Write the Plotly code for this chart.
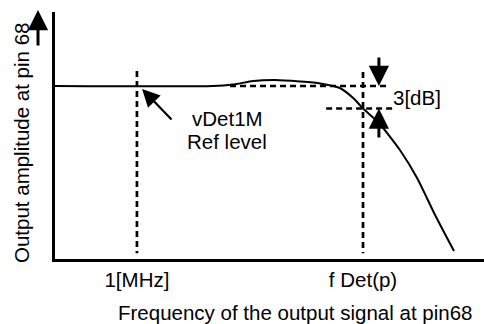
import plotly.graph_objects as go

# Normalised frequency axis (0..10) and level in dB relative to the 1 MHz reference
freq = [0.0, 3.68, 4.15, 4.62, 5.13, 5.71, 6.18, 6.64, 6.95, 7.18, 7.55, 8.04, 8.44, 8.86, 9.30]
level_db = [0.0, 0.0, 0.2, 0.67, 0.8, 0.6, 0.35, -0.27, -1.6, -3.0, -4.93, -8.53, -12.27, -17.2, -22.0]

f_ref = 1.91      # 1 MHz reference frequency
f_det = 7.18      # -3 dB detector frequency
tick_vals = [f_ref, f_det]
tick_text = ["1[MHz]", "f Det(p)"]

# Marker guide extents
ref_guide_x = [4.08, 7.81]       # 0 dB dashed guide
cut_guide_x = [6.32, 7.93]       # -3 dB dashed guide
vline_db = [2.0, -22.3]          # vertical dashed guides
fdet_vline_db = [1.87, -22.3]

X_RANGE = [0, 10]
Y_RANGE = [-23.07, 9.87]
FONT = "Liberation Sans, Arial, sans-serif"
FS = 20.5
dash_style = dict(color="black", width=2.7, dash="6px,4px")

fig = go.Figure()

# Frequency response
fig.add_trace(go.Scatter(x=freq, y=level_db, mode="lines",
                         line=dict(color="black", width=2, shape="spline", smoothing=0.6),
                         hoverinfo="skip"))

# Dashed guides
fig.add_trace(go.Scatter(x=[f_ref, f_ref], y=vline_db, mode="lines", line=dash_style, hoverinfo="skip"))
fig.add_trace(go.Scatter(x=[f_det, f_det], y=fdet_vline_db, mode="lines", line=dash_style, hoverinfo="skip"))
fig.add_trace(go.Scatter(x=ref_guide_x, y=[0, 0], mode="lines", line=dash_style, hoverinfo="skip"))
fig.add_trace(go.Scatter(x=cut_guide_x, y=[-3, -3], mode="lines", line=dash_style, hoverinfo="skip"))

arrow_x = 7.55
txt = dict(size=FS, family=FONT, color="black")
annotations = [
    # 3 dB span arrows
    dict(x=arrow_x, y=0, ax=arrow_x, ay=4.0, xref="x", yref="y", axref="x", ayref="y",
         text="", showarrow=True, arrowhead=2, arrowwidth=3, arrowsize=1.35, arrowcolor="black"),
    dict(x=arrow_x, y=-3, ax=arrow_x, ay=-7.07, xref="x", yref="y", axref="x", ayref="y",
         text="", showarrow=True, arrowhead=2, arrowwidth=3, arrowsize=1.35, arrowcolor="black"),
    # Pointer to the reference level
    dict(x=2.03, y=-0.4, ax=2.75, ay=-4.67, xref="x", yref="y", axref="x", ayref="y",
         text="", showarrow=True, arrowhead=2, arrowwidth=2.2, arrowsize=1.6, arrowcolor="black"),
    # Upward arrow beside the amplitude axis
    dict(x=-0.0396, y=1.008, xref="paper", yref="paper", ax=0, ay=37,
         text="", showarrow=True, arrowhead=2, arrowwidth=3, arrowsize=1.35, arrowcolor="black"),
    # Labels
    dict(x=8.44, y=-1.55, xref="x", yref="y", text="3[dB]", showarrow=False,
         font=txt, xanchor="center", yanchor="middle"),
    dict(x=4.01, y=-4.33, xref="x", yref="y", text="vDet1M", showarrow=False,
         font=txt, xanchor="center", yanchor="middle"),
    dict(x=4.01, y=-7.4, xref="x", yref="y", text="Ref level", showarrow=False,
         font=txt, xanchor="center", yanchor="middle"),
    dict(x=(295 - 55) / 429, y=-(312 - 259) / 247, xref="paper", yref="paper",
         text="Frequency of the output signal at pin68", showarrow=False,
         font=txt, xanchor="center", yanchor="middle"),
    dict(x=(21 - 55) / 429, y=(259 - 143) / 247, xref="paper", yref="paper",
         text="Output amplitude at pin 68", textangle=-90, showarrow=False,
         font=txt, xanchor="center", yanchor="middle"),
]

fig.update_layout(
    width=484, height=324,
    margin=dict(l=55, r=0, t=12, b=65),
    plot_bgcolor="white", paper_bgcolor="white",
    showlegend=False,
    font=dict(family=FONT, size=FS, color="black"),
    annotations=annotations,
    xaxis=dict(range=X_RANGE, showline=True, linewidth=3, linecolor="black",
               showgrid=False, zeroline=False, ticks="",
               tickvals=tick_vals, ticktext=tick_text,
               tickfont=txt),
    yaxis=dict(range=Y_RANGE, showline=True, linewidth=3, linecolor="black",
               showgrid=False, zeroline=False, ticks="", showticklabels=False),
)

fig.write_html("out.html")
